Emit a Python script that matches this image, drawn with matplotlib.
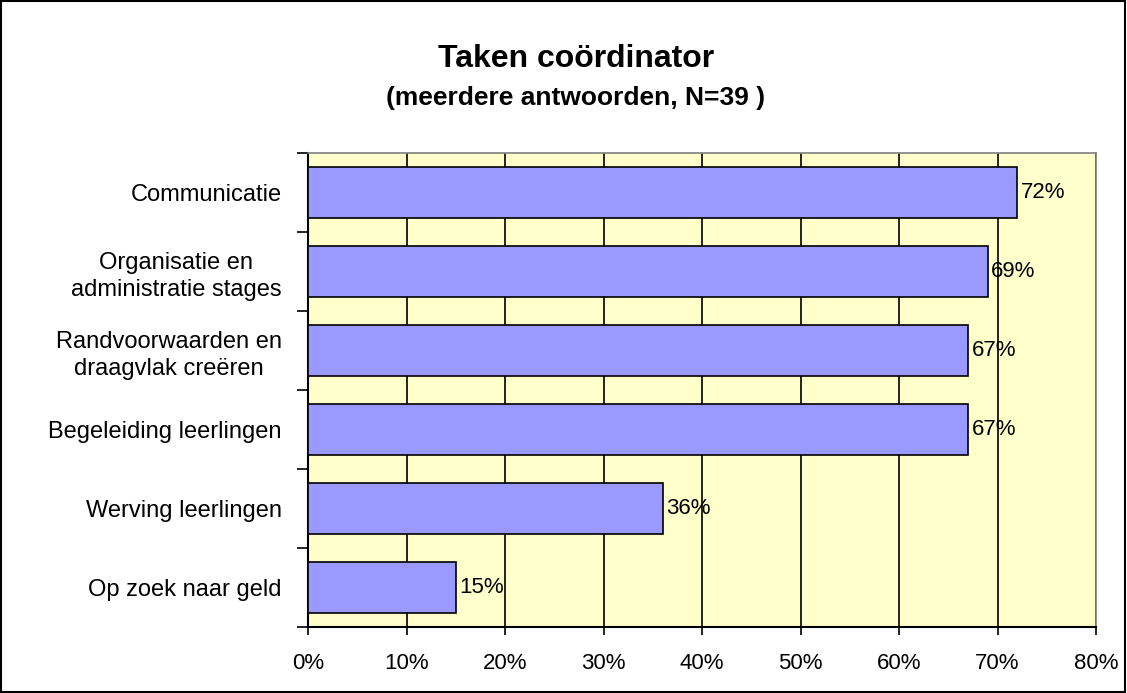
import matplotlib
matplotlib.use("Agg")
import matplotlib.pyplot as plt
from matplotlib.patches import Rectangle

# data
categories = ['Communicatie', 'Organisatie en\nadministratie stages', 'Randvoorwaarden en\ndraagvlak creëren',
              'Begeleiding leerlingen', 'Werving leerlingen', 'Op zoek naar geld']
values = [72, 69, 67, 67, 36, 15]
xticks = [0, 10, 20, 30, 40, 50, 60, 70, 80]

plt.rcParams['font.family'] = ['Liberation Sans', 'DejaVu Sans']

fig = plt.figure(figsize=(11.27, 6.93), dpi=100)
fig.patches.append(Rectangle((0.001, 0.001), 0.997, 0.997, transform=fig.transFigure,
                             fill=False, edgecolor='black', linewidth=1.5))
ax = fig.add_axes([308/1127, 66/693, 788/1127, 474/693])
ax.set_facecolor('#FFFFCC')

y = list(range(len(categories)))
ax.barh(y, values, height=0.65, color='#9999FF', edgecolor='black', linewidth=1.2, zorder=3)
for yi, v in zip(y, values):
    ax.text(v + 0.35, yi, '%d%%' % v, va='center', ha='left', fontsize=16, zorder=4)

ax.set_xlim(0, 80)
ax.set_ylim(len(categories) - 0.5, -0.5)
ax.set_xticks(xticks)
ax.set_xticklabels(['%d%%' % t for t in xticks], fontsize=16)
ax.xaxis.grid(True, color='black', linewidth=1.2, zorder=1)

# category ticks at boundaries, labels in the middle
ax.set_yticks([i - 0.5 for i in range(len(categories) + 1)])
ax.set_yticklabels([])
ax.set_yticks(y, minor=True)
ax.set_yticklabels(categories, minor=True, fontsize=17, ha='right', multialignment='center',
                   linespacing=1.3)
ax.tick_params(axis='y', which='minor', length=0, pad=19)
ax.tick_params(axis='y', which='major', length=8, width=1.2, direction='out')
ax.tick_params(axis='x', length=6, width=1.2, direction='out', pad=13)

for s in ['top', 'right']:
    ax.spines[s].set_color('#808080')
    ax.spines[s].set_linewidth(1.2)
for s in ['left', 'bottom']:
    ax.spines[s].set_linewidth(1.5)

fig.text(576/1127, 1 - 67/693, 'Taken coördinator', ha='center', va='baseline',
         fontsize=23, fontweight='bold')
fig.text(576/1127, 1 - 105/693, '(meerdere antwoorden, N=39 )', ha='center', va='baseline',
         fontsize=19, fontweight='bold')

plt.savefig('out.png', dpi=100)
